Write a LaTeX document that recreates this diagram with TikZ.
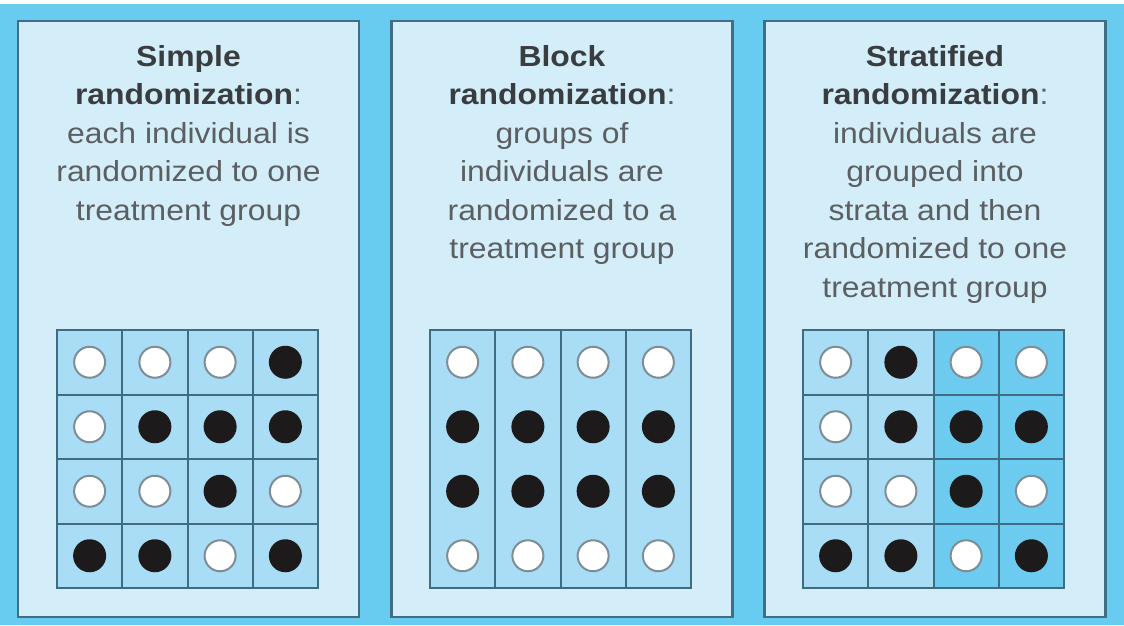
\documentclass[tikz,border=0pt]{standalone}
\usepackage{fontspec}
\setmainfont[FakeStretch=1.1]{Liberation Sans}
\definecolor{bgblue}{HTML}{68CBF0}
\definecolor{panelfill}{HTML}{D4EEF9}
\definecolor{panelline}{HTML}{416E84}
\definecolor{celllight}{HTML}{A9DDF5}
\definecolor{celldark}{HTML}{6DCBF0}
\definecolor{gridline}{HTML}{3F6C82}
\definecolor{titlegray}{HTML}{3A3D40}
\definecolor{bodygray}{HTML}{5C5F62}
% dot colours: 0 = open (white), 1 = filled (black)
\definecolor{dotfill0}{HTML}{FFFFFF}
\definecolor{dotfill1}{HTML}{1C1A1A}
\definecolor{dotdraw0}{HTML}{7D8E97}
\definecolor{dotdraw1}{HTML}{1C1A1A}
% stratified grid: two strata of columns
\colorlet{sfill1}{celllight}
\colorlet{sfill2}{celllight}
\colorlet{sfill3}{celldark}
\colorlet{sfill4}{celldark}
\begin{document}
\begin{tikzpicture}[x=1pt,y=-1pt,
  panel/.style={draw=panelline,line width=2.5pt,fill=panelfill,
    minimum width=341pt,minimum height=596pt,inner sep=0pt},
  cell/.style={draw=gridline,line width=2pt,minimum width=65.25pt,
    minimum height=64.5pt,inner sep=0pt},
  dot/.style={circle,line width=2pt,minimum size=31pt,inner sep=0pt},
  label/.style={anchor=north,align=center,inner sep=0pt,text=bodygray,
    font=\fontsize{29}{38.5}\selectfont}]
\useasboundingbox (0,0) rectangle (1124,625);
\fill[white] (0,0) rectangle (1124,625);
\fill[bgblue] (0,4) rectangle (1124,625);

% the three panels
\node[panel] (p1) at (188.5,319) {};
\node[panel] (p2) at (562,319) {};
\node[panel] (p3) at (935,319) {};

% captions
\node[label] (t1) at (188.5,45)
  {\textcolor{titlegray}{\bfseries Simple}\\
   \textcolor{titlegray}{\bfseries randomization}:\\
   each individual is\\ randomized to one\\ treatment group};
\node[label] (t2) at (562,45)
  {\textcolor{titlegray}{\bfseries Block}\\
   \textcolor{titlegray}{\bfseries randomization}:\\
   groups of\\ individuals are\\ randomized to a\\ treatment group};
\node[label] (t3) at (935,45)
  {\textcolor{titlegray}{\bfseries Stratified}\\
   \textcolor{titlegray}{\bfseries randomization}:\\
   individuals are\\ grouped into\\ strata and then\\
   randomized to one\\ treatment group};

% simple randomization: 4x4 cells, each individual assigned on its own
\foreach \r/\a/\b/\c/\d in {1/0/0/0/1, 2/0/1/1/1, 3/0/0/1/0, 4/1/1/0/1} {
  \foreach \k/\v in {1/\a, 2/\b, 3/\c, 4/\d} {
    \node[cell,fill=celllight] (sc\r\k)
      at ({57+65.25*(\k-0.5)},{330+64.5*(\r-0.5)}) {};
    \node[dot,fill=dotfill\v,draw=dotdraw\v] (sd\r\k) at (sc\r\k) {};
  }
}

% block randomization: four columns, each one block
\foreach \k in {1,2,3,4} {
  \node[cell,fill=celllight,minimum height=258pt] (bc\k)
    at ({430+65.25*(\k-0.5)},459) {};
}
\foreach \r/\v in {1/0, 2/1, 3/1, 4/0} {
  \foreach \k in {1,2,3,4} {
    \node[dot,fill=dotfill\v,draw=dotdraw\v] (bd\r\k)
      at ({430+65.25*(\k-0.5)},{330+64.5*(\r-0.5)}) {};
  }
}

% stratified randomization: two strata of two columns
\foreach \r/\a/\b/\c/\d in {1/0/1/0/0, 2/0/1/1/1, 3/0/0/1/0, 4/1/1/0/1} {
  \foreach \k/\v in {1/\a, 2/\b, 3/\c, 4/\d} {
    \node[cell,fill=sfill\k] (tc\r\k)
      at ({803+65.25*(\k-0.5)},{330+64.5*(\r-0.5)}) {};
    \node[dot,fill=dotfill\v,draw=dotdraw\v] (td\r\k) at (tc\r\k) {};
  }
}
\end{tikzpicture}
\end{document}
